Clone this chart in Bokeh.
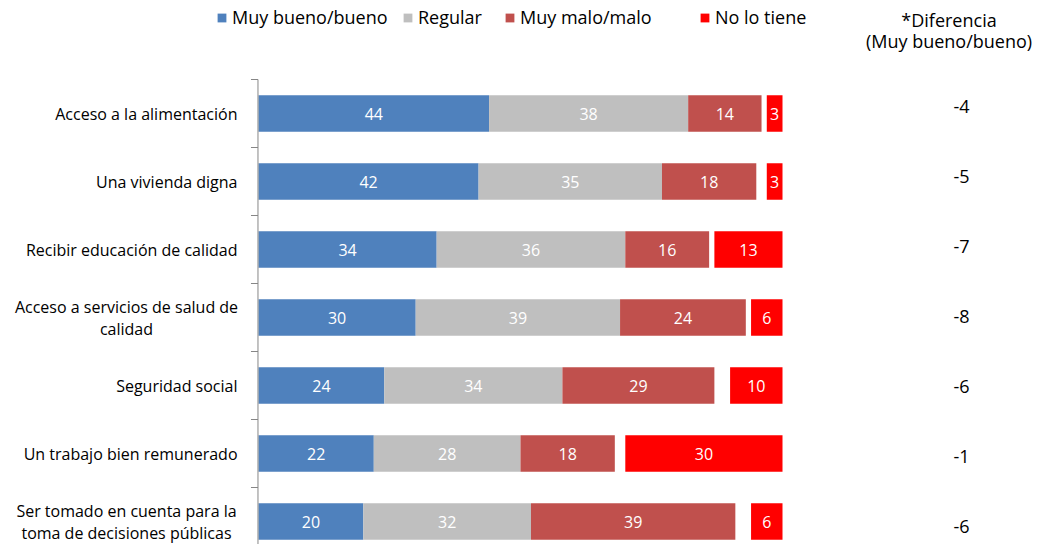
from bokeh.plotting import figure
from bokeh.models import Range1d, Legend, LegendItem
from bokeh.core.properties import value
from bokeh.embed import file_html
from bokeh.resources import INLINE

# ---- data ----
categories = [
    "Acceso a la alimentación",
    "Una vivienda digna",
    "Recibir educación de calidad",
    "Acceso a servicios de salud de\ncalidad",
    "Seguridad social",
    "Un trabajo bien remunerado",
    "Ser tomado en cuenta para la\ntoma de decisiones públicas",
]
muy_bueno = [44, 42, 34, 30, 24, 22, 20]
regular = [38, 35, 36, 39, 34, 28, 32]
muy_malo = [14, 18, 16, 24, 29, 18, 39]
no_lo_tiene = [3, 3, 13, 6, 10, 30, 6]
diferencia = [-4, -5, -7, -8, -6, -1, -6]
series_names = ["Muy bueno/bueno", "Regular", "Muy malo/malo", "No lo tiene"]
colors = ["#4F81BD", "#BFBFBF", "#C0504D", "#FF0000"]
TOTAL = 100

FONT = value("Open Sans")
W, H = 1040, 544
PX = 5.24          # pixels per percentage point
X0 = 258           # pixel position of 0
ROW = 68           # pixels per category
Y0 = 113           # pixel position of first category centre

n = len(categories)
ys = list(range(n))

p = figure(width=W, height=H, output_backend="svg", toolbar_location=None,
           x_axis_type=None, y_axis_type=None, min_border=0,
           x_range=Range1d(-X0 / PX, (W - X0) / PX),
           y_range=Range1d((H - Y0) / ROW, -Y0 / ROW))
p.outline_line_color = None
p.background_fill_color = "white"

# stacked segments
l1 = [0] * n
r1 = muy_bueno
l2 = r1
r2 = [a + b for a, b in zip(r1, regular)]
l3 = r2
r3 = [a + b for a, b in zip(r2, muy_malo)]
l4 = [TOTAL - v for v in no_lo_tiene]
r4 = [TOTAL] * n

lefts = [l1, l2, l3, l4]
rights = [r1, r2, r3, r4]
vals = [muy_bueno, regular, muy_malo, no_lo_tiene]
renderers = []
for lf, rt, c in zip(lefts, rights, colors):
    renderers.append(p.hbar(y=ys, left=lf, right=rt, height=0.54,
                            fill_color=c, line_color=None))

for lf, rt, v in zip(lefts, rights, vals):
    p.text(x=[(a + b) / 2 for a, b in zip(lf, rt)], y=ys, text=[str(x) for x in v],
           text_align="center", text_baseline="middle", text_color="white",
           text_font=FONT, text_font_size="16px")

# axis line and ticks
AX = -0.1
p.segment(x0=[AX], y0=[-0.5], x1=[AX], y1=[n], line_color="#868686", line_width=1)
bounds = [i - 0.5 for i in range(n + 1)]
p.segment(x0=[AX - 7 / PX] * len(bounds), y0=bounds, x1=[AX] * len(bounds), y1=bounds,
          line_color="#868686", line_width=1)

# category labels
single = [(c, y) for c, y in zip(categories, ys) if "\n" not in c]
multi = [(c, y) for c, y in zip(categories, ys) if "\n" in c]
LAB_R = -21 / PX
p.text(x=[LAB_R] * len(single), y=[y for _, y in single], text=[c for c, _ in single],
       text_align="right", text_baseline="middle", text_color="#000000",
       text_font=FONT, text_font_size="16px")
p.text(x=[LAB_R - 111 / PX] * len(multi), y=[y for _, y in multi], text=[c for c, _ in multi],
       text_align="center", text_baseline="middle", text_color="#000000",
       text_font=FONT, text_font_size="16px", text_line_height=1.0)

# diferencia column
DX = (961 - X0) / PX
p.text(x=[DX] * n, y=[i * 70 / ROW - 0.1 for i in ys], text=[str(d) for d in diferencia],
       text_align="center", text_baseline="middle", text_color="#000000",
       text_font=FONT, text_font_size="18px")
HX = (948.5 - X0) / PX
p.text(x=[HX, HX], y=[(19.5 - Y0) / ROW, (40.5 - Y0) / ROW],
       text=["*Diferencia", "(Muy bueno/bueno)"],
       text_align="center", text_baseline="middle", text_color="#000000",
       text_font=FONT, text_font_size="18px")

# legends
leg_x = [216, 402, 504, 699]
for r, name, lx in zip(renderers, series_names, leg_x):
    leg = Legend(items=[LegendItem(label=name, renderers=[r])],
                 location=(lx, 515), orientation="horizontal",
                 glyph_width=11, glyph_height=11, label_standoff=5,
                 padding=0, margin=0, spacing=0, border_line_color=None,
                 background_fill_alpha=0, label_text_font="Open Sans",
                 label_text_font_size="18px", label_text_color="#000000",
                 label_height=11)
    p.add_layout(leg)

open("out.html", "w").write(file_html(p, INLINE))
